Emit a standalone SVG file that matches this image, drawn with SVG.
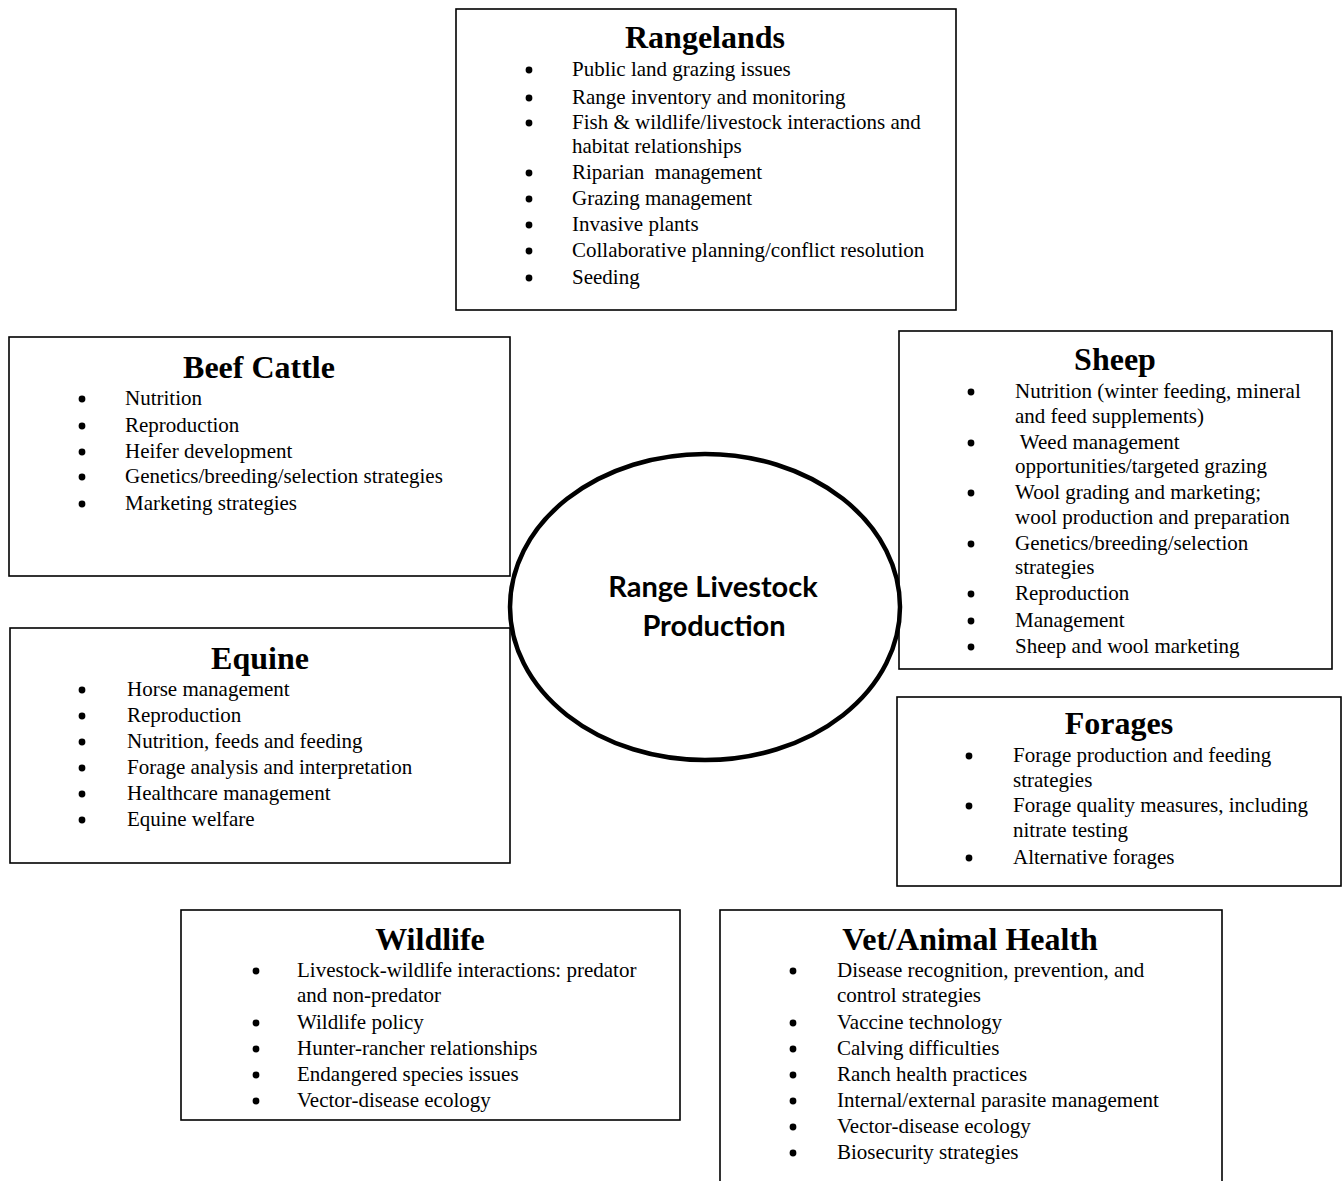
<svg xmlns="http://www.w3.org/2000/svg" width="1342" height="1181" viewBox="0 0 1342 1181">
<style>
.box{fill:#fff;stroke:#000;stroke-width:1.6}
.t{font-family:"Liberation Serif","Times New Roman",serif;font-weight:bold;font-size:32px;text-anchor:middle;fill:#000}
.b{font-family:"Liberation Serif","Times New Roman",serif;font-size:21px;fill:#000;white-space:pre}
.d{fill:#000}
.c{font-family:Lato,"Open Sans",sans-serif;font-weight:bold;font-size:29px;text-anchor:middle;fill:#000}
</style>
<rect width="1342" height="1181" fill="#fff"/>

<g id="rangelands">
<rect class="box" x="456" y="9" width="500" height="301"/>
<text class="t" x="705" y="48">Rangelands</text>
<g class="d"><circle cx="529" cy="70" r="3.4"/><circle cx="529" cy="98" r="3.4"/><circle cx="529" cy="123" r="3.4"/><circle cx="529" cy="173" r="3.4"/><circle cx="529" cy="199" r="3.4"/><circle cx="529" cy="225" r="3.4"/><circle cx="529" cy="251" r="3.4"/><circle cx="529" cy="278" r="3.4"/></g>
<text class="b" x="572" y="76">Public land grazing issues</text>
<text class="b" x="572" y="104">Range inventory and monitoring</text>
<text class="b" x="572" y="129">Fish &amp; wildlife/livestock interactions and</text>
<text class="b" x="572" y="153">habitat relationships</text>
<text class="b" x="572" y="179">Riparian  management</text>
<text class="b" x="572" y="205">Grazing management</text>
<text class="b" x="572" y="231">Invasive plants</text>
<text class="b" x="572" y="257">Collaborative planning/conflict resolution</text>
<text class="b" x="572" y="284">Seeding</text>
</g>

<g id="beef-cattle">
<rect class="box" x="9" y="337" width="501" height="239"/>
<text class="t" x="259" y="378">Beef Cattle</text>
<g class="d"><circle cx="82" cy="399" r="3.4"/><circle cx="82" cy="426" r="3.4"/><circle cx="82" cy="452" r="3.4"/><circle cx="82" cy="477" r="3.4"/><circle cx="82" cy="504" r="3.4"/></g>
<text class="b" x="125" y="405">Nutrition</text>
<text class="b" x="125" y="432">Reproduction</text>
<text class="b" x="125" y="458">Heifer development</text>
<text class="b" x="125" y="483">Genetics/breeding/selection strategies</text>
<text class="b" x="125" y="510">Marketing strategies</text>
</g>

<g id="sheep">
<rect class="box" x="899" y="331" width="433" height="338"/>
<text class="t" x="1115" y="370">Sheep</text>
<g class="d"><circle cx="971" cy="392" r="3.4"/><circle cx="971" cy="443" r="3.4"/><circle cx="971" cy="493" r="3.4"/><circle cx="971" cy="544" r="3.4"/><circle cx="971" cy="594" r="3.4"/><circle cx="971" cy="621" r="3.4"/><circle cx="971" cy="647" r="3.4"/></g>
<text class="b" x="1015" y="398">Nutrition (winter feeding, mineral</text>
<text class="b" x="1015" y="423">and feed supplements)</text>
<text class="b" x="1015" y="449"> Weed management</text>
<text class="b" x="1015" y="473">opportunities/targeted grazing</text>
<text class="b" x="1015" y="499">Wool grading and marketing;</text>
<text class="b" x="1015" y="524">wool production and preparation</text>
<text class="b" x="1015" y="550">Genetics/breeding/selection</text>
<text class="b" x="1015" y="574">strategies</text>
<text class="b" x="1015" y="600">Reproduction</text>
<text class="b" x="1015" y="627">Management</text>
<text class="b" x="1015" y="653">Sheep and wool marketing</text>
</g>

<g id="equine">
<rect class="box" x="10" y="628" width="500" height="235"/>
<text class="t" x="260" y="669">Equine</text>
<g class="d"><circle cx="82" cy="690" r="3.4"/><circle cx="82" cy="716" r="3.4"/><circle cx="82" cy="742" r="3.4"/><circle cx="82" cy="768" r="3.4"/><circle cx="82" cy="794" r="3.4"/><circle cx="82" cy="820" r="3.4"/></g>
<text class="b" x="127" y="696">Horse management</text>
<text class="b" x="127" y="722">Reproduction</text>
<text class="b" x="127" y="748">Nutrition, feeds and feeding</text>
<text class="b" x="127" y="774">Forage analysis and interpretation</text>
<text class="b" x="127" y="800">Healthcare management</text>
<text class="b" x="127" y="826">Equine welfare</text>
</g>

<g id="forages">
<rect class="box" x="897" y="697" width="444" height="189"/>
<text class="t" x="1119" y="734">Forages</text>
<g class="d"><circle cx="969" cy="756" r="3.4"/><circle cx="969" cy="806" r="3.4"/><circle cx="969" cy="858" r="3.4"/></g>
<text class="b" x="1013" y="762">Forage production and feeding</text>
<text class="b" x="1013" y="787">strategies</text>
<text class="b" x="1013" y="812">Forage quality measures, including</text>
<text class="b" x="1013" y="837">nitrate testing</text>
<text class="b" x="1013" y="864">Alternative forages</text>
</g>

<g id="wildlife">
<rect class="box" x="181" y="910" width="499" height="210"/>
<text class="t" x="430" y="950">Wildlife</text>
<g class="d"><circle cx="256" cy="971" r="3.4"/><circle cx="256" cy="1023" r="3.4"/><circle cx="256" cy="1049" r="3.4"/><circle cx="256" cy="1075" r="3.4"/><circle cx="256" cy="1101" r="3.4"/></g>
<text class="b" x="297" y="977">Livestock-wildlife interactions: predator</text>
<text class="b" x="297" y="1002">and non-predator</text>
<text class="b" x="297" y="1029">Wildlife policy</text>
<text class="b" x="297" y="1055">Hunter-rancher relationships</text>
<text class="b" x="297" y="1081">Endangered species issues</text>
<text class="b" x="297" y="1107">Vector-disease ecology</text>
</g>

<g id="vet-animal-health">
<rect class="box" x="720" y="910" width="502" height="285"/>
<text class="t" x="970" y="950">Vet/Animal Health</text>
<g class="d"><circle cx="793" cy="971" r="3.4"/><circle cx="793" cy="1023" r="3.4"/><circle cx="793" cy="1049" r="3.4"/><circle cx="793" cy="1075" r="3.4"/><circle cx="793" cy="1101" r="3.4"/><circle cx="793" cy="1127" r="3.4"/><circle cx="793" cy="1153" r="3.4"/></g>
<text class="b" x="837" y="977">Disease recognition, prevention, and</text>
<text class="b" x="837" y="1002">control strategies</text>
<text class="b" x="837" y="1029">Vaccine technology</text>
<text class="b" x="837" y="1055">Calving difficulties</text>
<text class="b" x="837" y="1081">Ranch health practices</text>
<text class="b" x="837" y="1107">Internal/external parasite management</text>
<text class="b" x="837" y="1133">Vector-disease ecology</text>
<text class="b" x="837" y="1159">Biosecurity strategies</text>
</g>

<g id="range-livestock-production">
<ellipse cx="705" cy="607" rx="195" ry="153" fill="#fff" stroke="#000" stroke-width="4.5"/>
<text class="c" x="713" y="597">Range Livestock</text>
<text class="c" x="714" y="636">Production</text>
</g>
</svg>
